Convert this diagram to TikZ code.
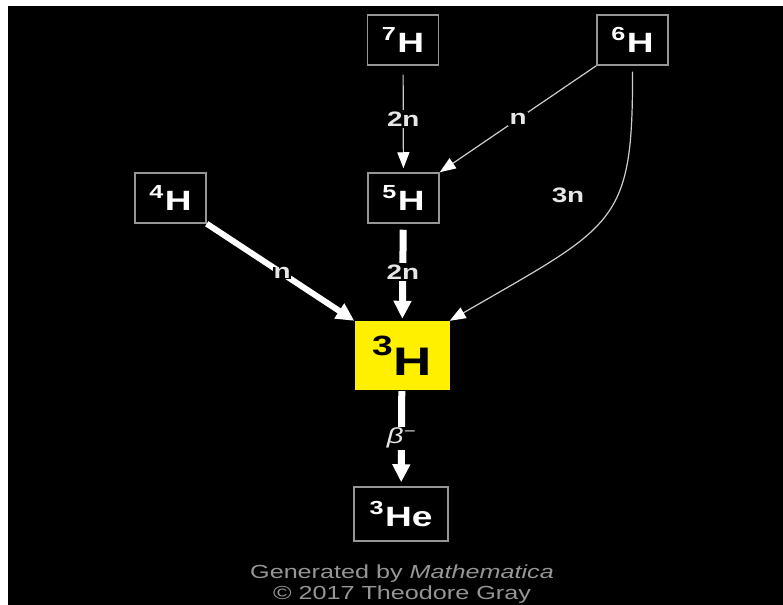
\documentclass[tikz,border=0pt]{standalone}
\usepackage{fontspec}
\setmainfont{Liberation Sans}[FakeStretch=1.33]
\usetikzlibrary{arrows.meta}
\definecolor{boxgray}{RGB}{150,150,150}
\definecolor{linegray}{RGB}{205,205,205}
\definecolor{labgray}{RGB}{230,230,230}
\definecolor{footgray}{RGB}{150,150,150}
\definecolor{hyel}{RGB}{255,240,0}
\newcommand{\nuclab}[2]{\raisebox{12bp}{\fontsize{19}{19}\selectfont #1}\hspace{1.5bp}\fontsize{28}{28}\selectfont #2}
\begin{document}
\begin{tikzpicture}[x=1bp,y=-1bp,
  nuc/.style={draw=boxgray,line width=1.5bp,fill=black,text=white,minimum width=71bp,minimum height=50bp,inner sep=0pt,font=\bfseries},
  mainnuc/.style={fill=hyel,text=black,minimum width=95bp,minimum height=69bp,inner sep=0pt,font=\bfseries},
  thinarrow/.style={draw=linegray,line width=1.2bp,-{Triangle[length=16bp,width=12bp,color=white]}},
  thickarrow/.style={draw=white,line width=7bp,-{Triangle[length=18bp,width=17bp,color=white]}},
  lab/.style={fill=black,text=labgray,inner sep=1.5bp,font=\bfseries\fontsize{21}{21}\selectfont},
  foot/.style={text=footgray,inner sep=0pt,anchor=base,font=\fontsize{19}{19}\selectfont}]
\useasboundingbox (0,0) rectangle (783,605);
\fill[white] (0,0) rectangle (783,605);
\fill[black] (8,6) rectangle (783,605);

\node[nuc] (h7) at (403,40) {\nuclab{7}{H}};
\node[nuc] (h6) at (632.5,40) {\nuclab{6}{H}};
\node[nuc] (h5) at (403.5,198) {\nuclab{5}{H}};
\node[nuc] (h4) at (170.5,198) {\nuclab{4}{H}};
\node[mainnuc] (h3) at (402,355.5) {\raisebox{20bp}{\fontsize{28}{28}\selectfont 3}\hspace{1bp}\fontsize{40}{40}\selectfont H};
\node[nuc,minimum width=94bp,minimum height=54bp] (he3) at (401,514) {\nuclab{3}{He}};

\draw[thinarrow,shorten <=9bp,shorten >=4bp] (h7) -- node[lab] {2n} (h5);
\draw[thinarrow] (h6.south west) -- node[lab,pos=0.5] {n} (h5.north east);
\draw[thinarrow,shorten <=6bp] (h6.south) .. controls (633,225) and (615,225) .. (h3.north east);
\node[lab] (l3n) at (568,195) {3n};
\draw[thickarrow,line width=6bp] (h4.south east) -- node[lab,pos=0.51,inner sep=0.5bp] {n} (h3.north west);
\draw[thickarrow,shorten <=6bp,shorten >=2bp] (h5) -- node[lab] {2n} (h3);
\draw[thickarrow,shorten <=1bp,shorten >=4bp] (h3) -- node[lab,font=\fontsize{22}{22}\selectfont\itshape] {β\textsuperscript{−}} (he3);

\node[foot] (g1) at (402,578) {Generated by \textit{Mathematica}};
\node[foot] (g2) at (402,599) {© 2017 Theodore Gray};
\end{tikzpicture}
\end{document}
